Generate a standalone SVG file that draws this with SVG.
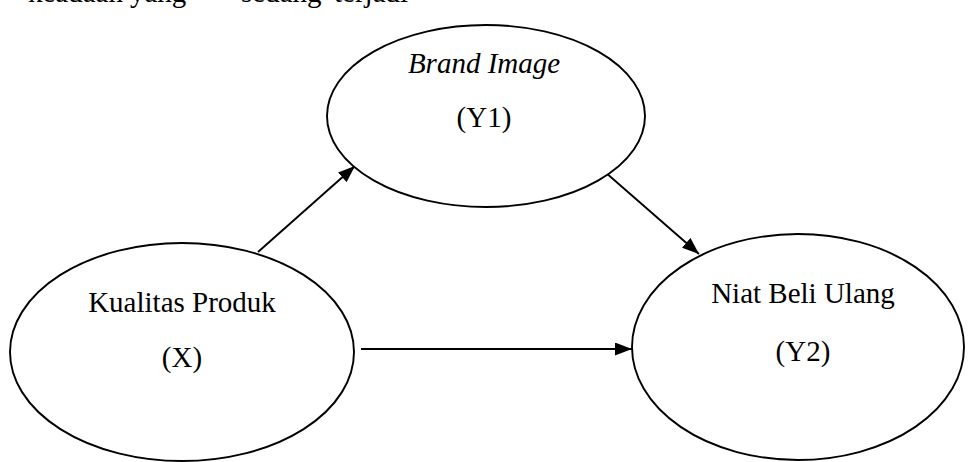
<svg xmlns="http://www.w3.org/2000/svg" width="968" height="462" viewBox="0 0 968 462">
  <style>
    .node { fill: #ffffff; stroke: #000000; stroke-width: 1.9; }
    .lbl { font-family: "Liberation Serif", "Times New Roman", serif; font-size: 29px; fill: #000000; text-anchor: middle; }
    .it { font-style: italic; }
    .edge { stroke: #000000; stroke-width: 1.9; fill: none; marker-end: url(#arrow); }
    .top { font-family: "Liberation Serif", "Times New Roman", serif; font-size: 29px; fill: #000000; }
  </style>
  <defs>
    <marker id="arrow" viewBox="0 0 17 13" refX="17" refY="6.5" markerWidth="17" markerHeight="13" markerUnits="userSpaceOnUse" orient="auto">
      <path d="M0,0 L17,6.5 L0,13 z" fill="#000000"/>
    </marker>
  </defs>
  <rect width="968" height="462" fill="#ffffff"/>

  <text class="top" y="2"><tspan x="28">keadaan</tspan><tspan x="130">yang</tspan><tspan x="241">sedang</tspan><tspan x="334">terjadi</tspan></text>

  <g id="connectors">
    <line class="edge" x1="258" y1="252" x2="355" y2="166"/>
    <line class="edge" x1="605" y1="172" x2="699" y2="254"/>
    <line class="edge" x1="361" y1="349" x2="632" y2="349"/>
  </g>

  <g id="brand-image">
    <ellipse class="node" cx="486" cy="116" rx="159" ry="91"/>
    <text class="lbl it" x="484" y="73">Brand Image</text>
    <text class="lbl" x="484" y="127">(Y1)</text>
  </g>

  <g id="kualitas-produk">
    <ellipse class="node" cx="182" cy="352" rx="172" ry="109"/>
    <text class="lbl" x="182" y="312">Kualitas Produk</text>
    <text class="lbl" x="182" y="367">(X)</text>
  </g>

  <g id="niat-beli-ulang">
    <ellipse class="node" cx="798" cy="347" rx="166" ry="113"/>
    <text class="lbl" x="803" y="303">Niat Beli Ulang</text>
    <text class="lbl" x="803" y="361">(Y2)</text>
  </g>
</svg>
